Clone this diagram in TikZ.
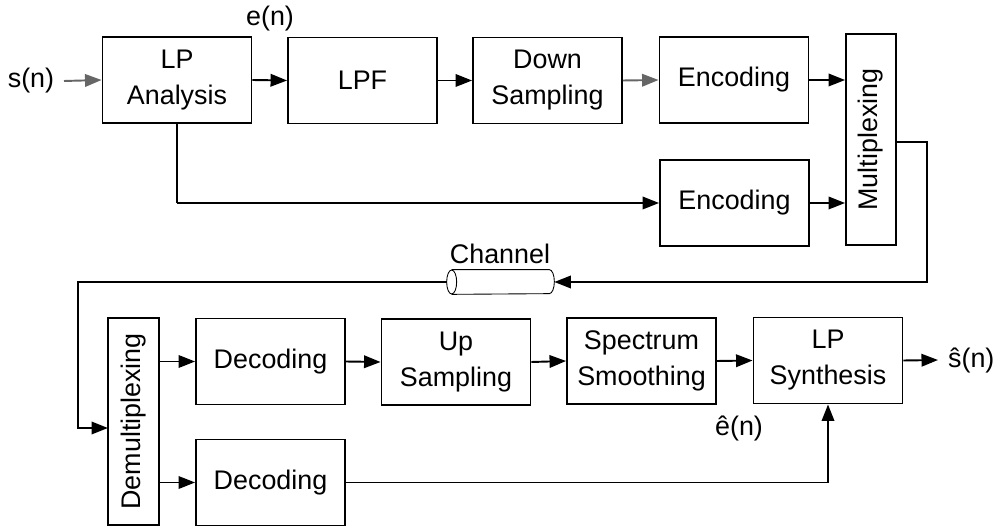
\documentclass[tikz,border=0pt]{standalone}
\usepackage{fontspec}
\setmainfont{Liberation Sans}
\usetikzlibrary{arrows.meta,calc}
\begin{document}
\begin{tikzpicture}[x=0.02cm,y=-0.02cm,
  every node/.style={font=\fontsize{15.3}{20.5}\selectfont},
  blk/.style={draw,line width=1.1pt,align=center,inner sep=0pt},
  wide/.style={blk,minimum width=2.98cm,minimum height=1.72cm},
  conn/.style={line width=1.1pt,-{Triangle[length=3.3mm,width=2.5mm]}},
  wire/.style={line width=1.1pt},
  greyconn/.style={conn,draw=black!60},
  pipe/.style={line width=0.5pt},
  lbl/.style={inner sep=1pt}]
\useasboundingbox (0,0) rectangle (996,526);
% top row
\node[wide] (lpa) at (177,80) {LP\\Analysis};
\node[wide] (lpf) at (362.5,80.5) {LPF};
\node[wide] (down) at (547.5,80.5) {Down\\Sampling};
\node[wide] (enc1) at (734,80) {Encoding};
\node[wide] (enc2) at (734.5,203) {Encoding};
\node[blk,minimum width=1.0cm,minimum height=4.22cm] (mux) at (871,139.5) {\rotatebox{90}{Multiplexing}};
% labels
\node[lbl] (sn) at (31,81) {s(n)};
\coordinate (snstart) at (64,81);
\node[lbl] (en) at (270,19) {e(n)};
% channel (pipe drawn around an invisible node)
\node[minimum width=2.14cm,minimum height=0.48cm,inner sep=0pt] (chan) at (500.5,282) {};
\draw[pipe] ($(chan.west)+(5,0)$) ellipse [x radius=0.1cm, y radius=0.24cm];
\draw[pipe] ($(chan.north west)+(5,0)$) -- ($(chan.north east)+(-5,0)$)
  arc[start angle=90, end angle=-90, x radius=0.1cm, y radius=0.24cm]
  -- ($(chan.south west)+(5,0)$);
\node[lbl] (chanlbl) at (500,254) {Channel};
% bottom row
\node[blk,minimum width=1.02cm,minimum height=4.14cm] (demux) at (133.5,421.5) {\rotatebox{90}{Demultiplexing}};
\node[wide] (dec1) at (270.5,361.5) {Decoding};
\node[wide] (up) at (456,362) {Up\\Sampling};
\node[wide] (spec) at (641.5,361) {Spectrum\\Smoothing};
\node[wide] (lps) at (828,360.5) {LP\\Synthesis};
\node[wide] (dec2) at (270.5,482.5) {Decoding};
\node[lbl] (ehat) at (739,428) {ê(n)};
\coordinate (outend) at (938,360);
\node[lbl,anchor=west] (shat) at (946,360) {ŝ(n)};
% coordinates for routing
\coordinate (lpatap) at (177,203);
\coordinate (muxout) at (896,142);
\coordinate (cright) at (927,142);
\coordinate (cdown) at (927,282);
\coordinate (cleft) at (78,282);
\coordinate (dlow) at (78,428);
\coordinate (demuxin) at (108,428);
% connectors top
\draw[greyconn] (snstart) -- (lpa.west);
\draw[conn] (lpa.east) -- (lpf.west);
\draw[conn] (lpf.east) -- (down.west);
\draw[greyconn] (down.east) -- (enc1.west);
\draw[conn] (enc1.east) -- (enc1.east -| mux.west);
\draw[wire] (lpa.south) -- (lpatap);
\draw[conn] (lpatap) -- (enc2.west);
\draw[conn] (enc2.east) -- (enc2.east -| mux.west);
\draw[conn] (muxout) -- (cright) -- (cdown) -- (chan.east);
\draw[conn] (chan.west) -- (cleft) -- (dlow) -- (demuxin);
% connectors bottom
\draw[conn] (dec1.west -| demux.east) -- (dec1.west);
\draw[conn] (dec2.west -| demux.east) -- (dec2.west);
\draw[conn] (dec1.east) -- (up.west);
\draw[conn] (up.east) -- (spec.west);
\draw[conn] (spec.east) -- (lps.west);
\draw[conn] (dec2.east) -| (lps.south);
\draw[conn] (lps.east) -- (outend);
\end{tikzpicture}
\end{document}
